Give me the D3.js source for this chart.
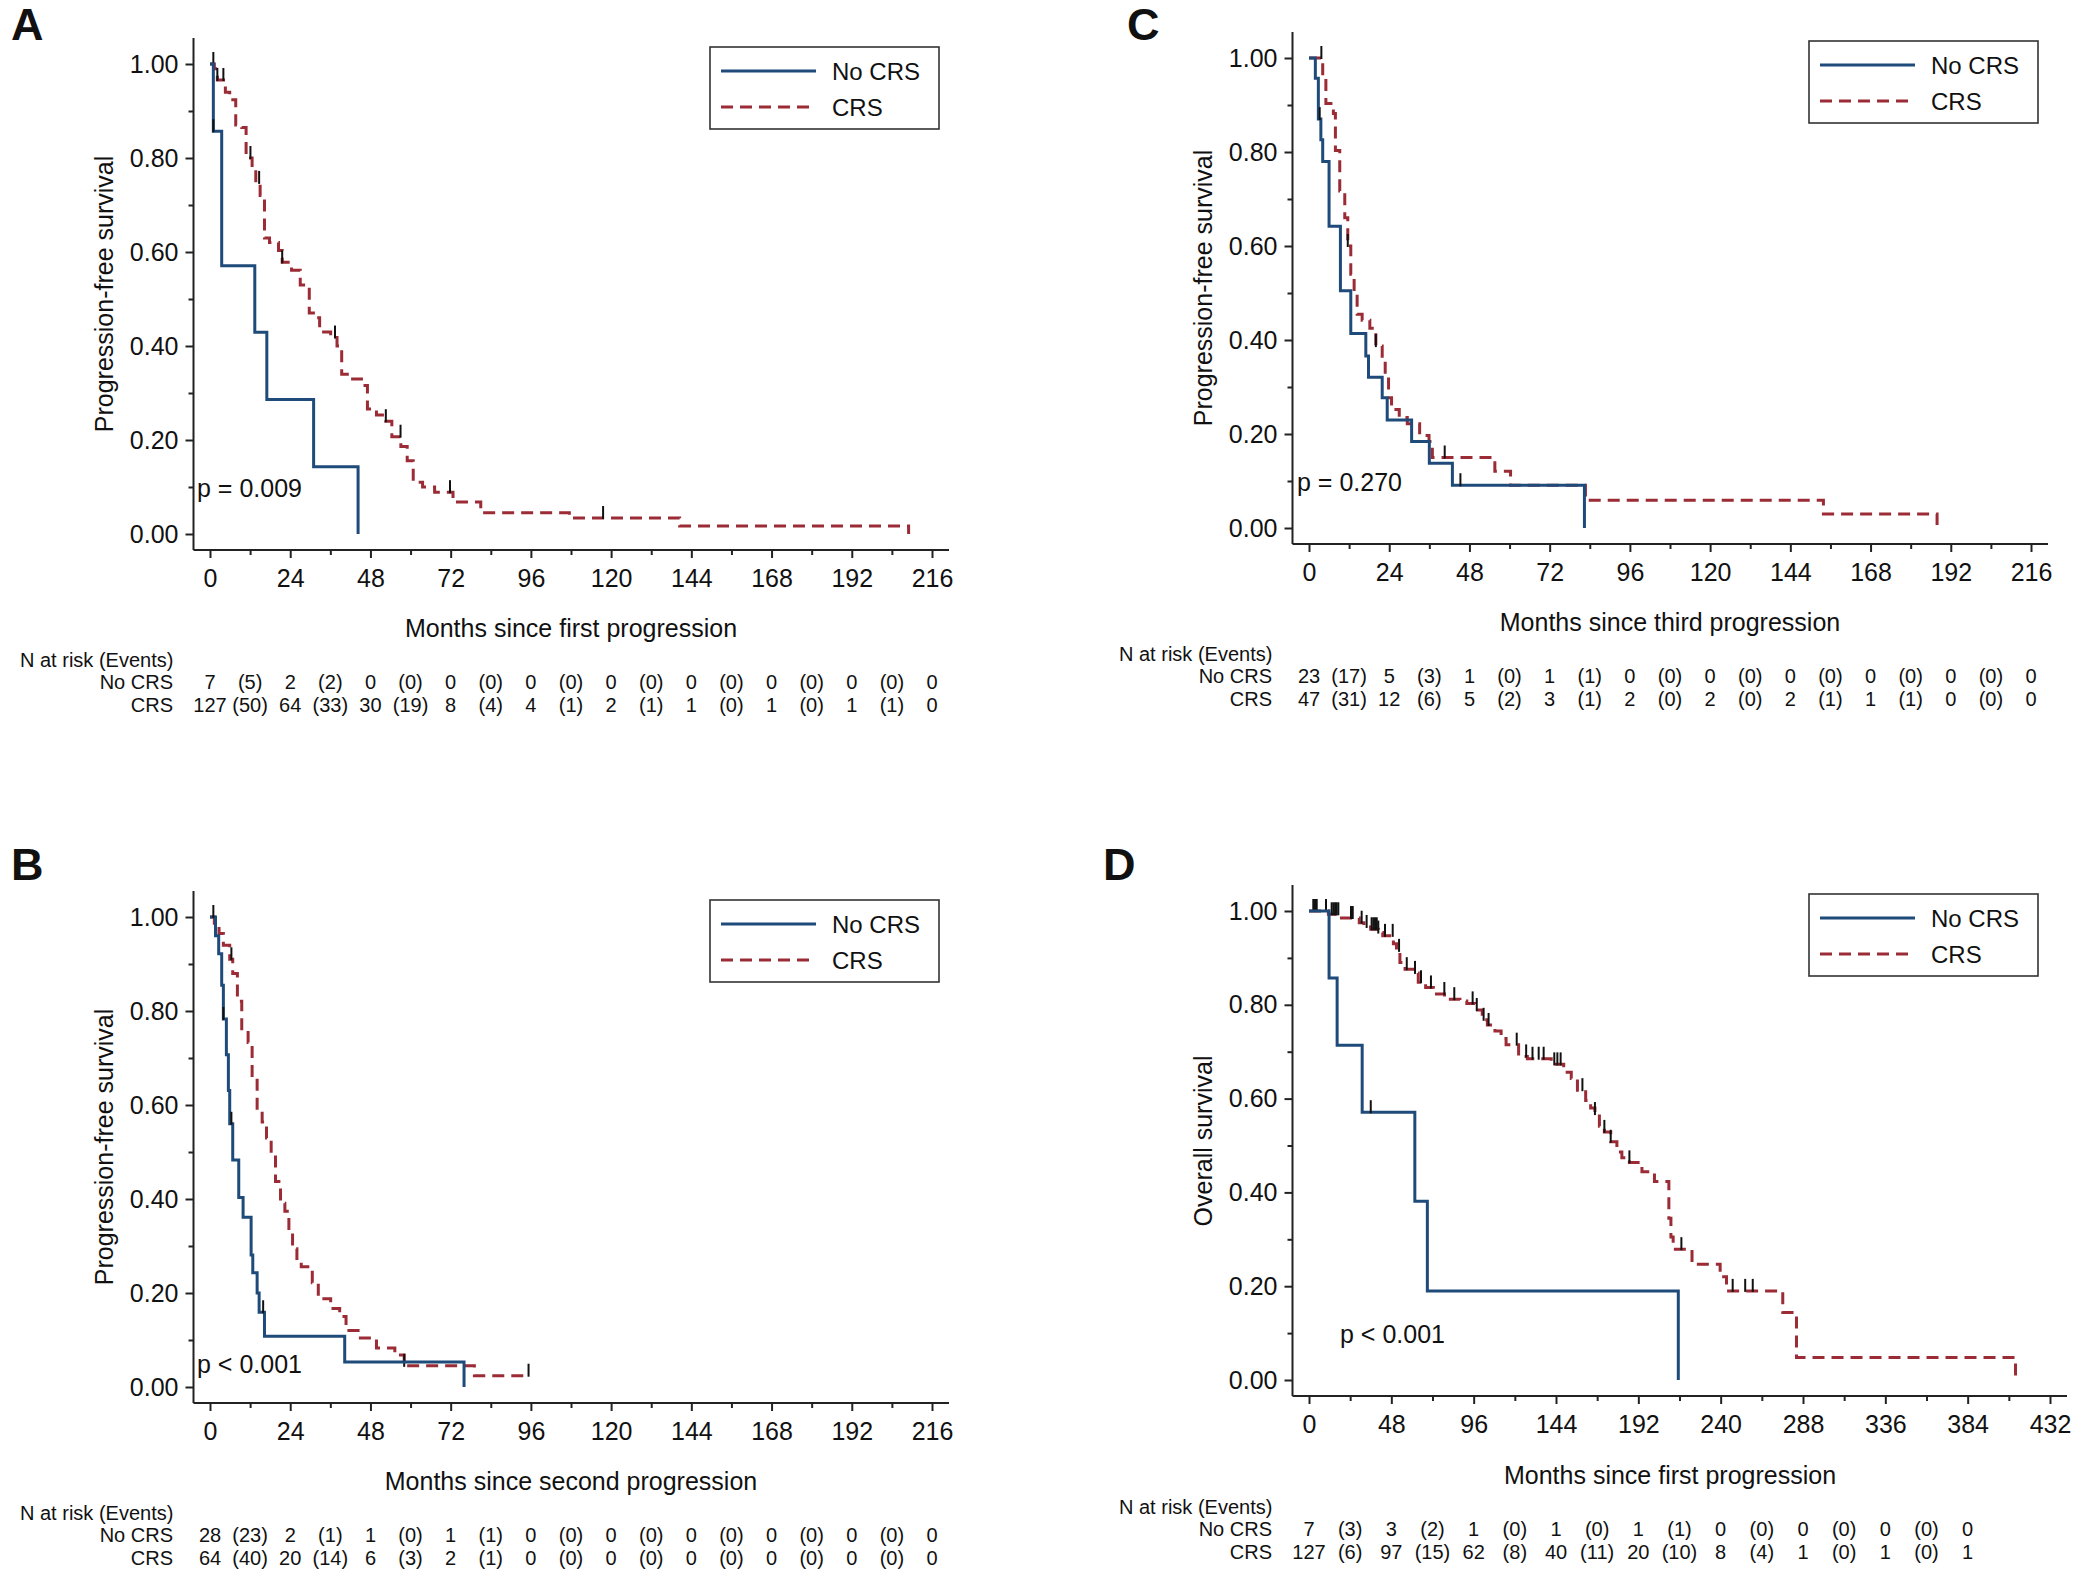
<!DOCTYPE html>
<html><head><meta charset="utf-8">
<script src="https://cdn.jsdelivr.net/npm/d3@7"></script>
<style>
body{margin:0;background:#fff}
svg{display:block}
text{font-family:"Liberation Sans",Arial,sans-serif;fill:#111}
</style>
</head><body>
<svg id="chart" width="2083" height="1579"></svg>
<script>
// ---------------- DATA ----------------
const groups = ["No CRS", "CRS"];
const yTicks = [0, 0.2, 0.4, 0.6, 0.8, 1.0];
const yMinorTicks = [0.1, 0.3, 0.5, 0.7, 0.9];
const pfsTicks = [0, 24, 48, 72, 96, 120, 144, 168, 192, 216];
const pfsMinorTicks = [12, 36, 60, 84, 108, 132, 156, 180, 204];
const osTicks = [0, 48, 96, 144, 192, 240, 288, 336, 384, 432];
const osMinorTicks = [24, 72, 120, 168, 216, 264, 312, 360, 408];
const pfsRiskTimes = [0, 24, 48, 72, 96, 120, 144, 168, 192, 216];
const pfsEventTimes = [12, 36, 60, 84, 108, 132, 156, 180, 204];
const osRiskTimes = [0, 48, 96, 144, 192, 240, 288, 336, 384];
const osEventTimes = [24, 72, 120, 168, 216, 264, 312, 360];

// Panel A: PFS after first progression
const aNoCrsTime = [0, 1, 3.5, 13.4, 17, 31, 44.3];
const aNoCrsSurv = [1, 0.857, 0.571, 0.429, 0.286, 0.143, 0];
const aCrsTime = [0, 1.3, 2.2, 4.6, 5.9, 7.7, 9.5, 10.8, 12.6, 13.7, 15, 16.3, 17.8, 20.5, 21.6, 24.4, 27, 29.7, 31.5, 32.8, 36.1, 38, 39.4, 41.6, 45.3, 47.1, 49.8, 52.6, 54.4, 57.1, 59, 60.8, 63.6, 67.2, 72.7, 81, 107.5, 140.5, 209];
const aCrsSurv = [1, 0.99, 0.966, 0.94, 0.924, 0.87, 0.865, 0.80, 0.78, 0.747, 0.72, 0.63, 0.62, 0.603, 0.578, 0.561, 0.53, 0.47, 0.46, 0.43, 0.418, 0.40, 0.34, 0.33, 0.316, 0.266, 0.253, 0.24, 0.207, 0.186, 0.156, 0.11, 0.10, 0.089, 0.068, 0.045, 0.034, 0.017, 0];
const aNoCrsCens = [1];
const aCrsCens = [1, 2.2, 4, 12.1, 14.7, 21.6, 37.4, 52.6, 57, 71.8, 117.6];
const aRiskNoCrs = [7, 2, 0, 0, 0, 0, 0, 0, 0, 0];
const aEventsNoCrs = [5, 2, 0, 0, 0, 0, 0, 0, 0];
const aRiskCrs = [127, 64, 30, 8, 4, 2, 1, 1, 1, 0];
const aEventsCrs = [50, 33, 19, 4, 1, 1, 0, 0, 1];

// Panel B: PFS after second progression
const bNoCrsTime = [0, 1.65, 2.6, 3.5, 4.0, 4.9, 5.5, 5.9, 6.8, 8.6, 9.9, 12.3, 12.8, 14.1, 14.7, 16.3, 40.3, 76];
const bNoCrsSurv = [1, 0.96, 0.922, 0.855, 0.783, 0.707, 0.631, 0.56, 0.483, 0.403, 0.361, 0.281, 0.243, 0.2, 0.159, 0.108, 0.053, 0];
const bCrsTime = [0, 1.3, 2.7, 4.0, 5.9, 6.8, 8.2, 9.5, 11.4, 12.6, 14.1, 15.6, 16.9, 18.3, 19.6, 21.1, 22.4, 23.6, 24.7, 26, 27.3, 30.6, 32.4, 36.1, 38.8, 40.7, 44.3, 49.8, 55.3, 58.1, 79.1, 95.3];
const bCrsSurv = [1, 0.98, 0.965, 0.94, 0.91, 0.88, 0.821, 0.758, 0.733, 0.657, 0.589, 0.564, 0.53, 0.496, 0.437, 0.391, 0.374, 0.332, 0.294, 0.268, 0.256, 0.222, 0.188, 0.167, 0.15, 0.12, 0.104, 0.083, 0.068, 0.045, 0.024, 0.024];
const bNoCrsCens = [1, 4.0, 6.4, 15.9];
const bCrsCens = [6.4, 58.1, 95.3];
const bRiskNoCrs = [28, 2, 1, 1, 0, 0, 0, 0, 0, 0];
const bEventsNoCrs = [23, 1, 0, 1, 0, 0, 0, 0, 0];
const bRiskCrs = [64, 20, 6, 2, 0, 0, 0, 0, 0, 0];
const bEventsCrs = [40, 14, 3, 1, 0, 0, 0, 0, 0];

// Panel C: PFS after third progression
const cNoCrsTime = [0, 1.9, 2.8, 3.55, 4.1, 6.0, 9.4, 12.5, 17.0, 17.8, 21.9, 23.4, 30.7, 36.0, 42.9, 82.4];
const cNoCrsSurv = [1, 0.957, 0.87, 0.826, 0.78, 0.642, 0.505, 0.414, 0.366, 0.321, 0.277, 0.23, 0.184, 0.138, 0.091, 0];
const cCrsTime = [0, 4.1, 5.05, 7.3, 7.9, 9.2, 10.7, 11.6, 12.5, 13.5, 14.4, 15.9, 18.2, 20, 21.9, 22.8, 23.8, 24.7, 27, 29.4, 33.1, 35.9, 36.9, 55.6, 60.3, 82.7, 153.9, 187.9];
const cCrsSurv = [1, 0.957, 0.903, 0.882, 0.803, 0.717, 0.66, 0.60, 0.54, 0.497, 0.455, 0.442, 0.425, 0.387, 0.362, 0.328, 0.277, 0.252, 0.235, 0.222, 0.197, 0.184, 0.15, 0.121, 0.091, 0.059, 0.030, 0];
const cNoCrsCens = [3.2, 45.3];
const cCrsCens = [3.7, 11.6, 20, 40.6];
const cRiskNoCrs = [23, 5, 1, 1, 0, 0, 0, 0, 0, 0];
const cEventsNoCrs = [17, 3, 0, 1, 0, 0, 0, 0, 0];
const cRiskCrs = [47, 12, 5, 3, 2, 2, 2, 1, 0, 0];
const cEventsCrs = [31, 6, 2, 1, 0, 0, 1, 1, 0];

// Panel D: overall survival
const dNoCrsTime = [0, 11.7, 16.4, 31, 61.7, 69, 215.3];
const dNoCrsSurv = [1, 0.857, 0.714, 0.571, 0.381, 0.19, 0];
const dCrsTime = [0, 11.3, 18, 29.3, 32, 36, 40.4, 43, 49.2, 51, 53, 56, 61.8, 63.7, 68, 72.5, 79, 88, 92, 96.8, 101, 104, 108.4, 112, 114.9, 122.2, 127.3, 141.2, 148.5, 152.9, 156.5, 161.3, 164.2, 166.7, 169.3, 172.2, 175.9, 179.5, 182.4, 186.8, 194.1, 201.4, 209.8, 211, 212.3, 223.3, 239.7, 243.4, 276.2, 284.2, 411.9];
const dCrsSurv = [1, 0.993, 0.985, 0.975, 0.966, 0.961, 0.954, 0.947, 0.93, 0.915, 0.89, 0.876, 0.868, 0.848, 0.837, 0.823, 0.812, 0.808, 0.803, 0.789, 0.768, 0.757, 0.744, 0.728, 0.715, 0.69, 0.685, 0.673, 0.656, 0.643, 0.618, 0.596, 0.58, 0.567, 0.541, 0.529, 0.508, 0.486, 0.474, 0.464, 0.444, 0.423, 0.345, 0.305, 0.279, 0.247, 0.22, 0.19, 0.144, 0.048, 0];
const dNoCrsCens = [36];
const dCrsCens = [2.5, 3.5, 4.5, 9.9, 13.2, 14.2, 15.2, 16.1, 17.1, 24.5, 25.5, 30.7, 33.6, 36.5, 37.5, 38.5, 39.5, 40.4, 44.3, 48.8, 52.5, 57, 61.8, 65.3, 71.1, 78.9, 84.7, 95.4, 97.8, 101.8, 104.7, 121.1, 126.6, 130.3, 133.9, 136.8, 143, 144.8, 146.7, 159.4, 166.7, 172.2, 175.9, 186.8, 217.1, 247, 254.3, 258.7];
const dRiskNoCrs = [7, 3, 1, 1, 1, 0, 0, 0, 0];
const dEventsNoCrs = [3, 2, 0, 0, 1, 0, 0, 0];
const dRiskCrs = [127, 97, 62, 40, 20, 8, 1, 1, 1];
const dEventsCrs = [6, 15, 8, 11, 10, 4, 0, 0];

const yTitles = ["Progression-free survival", "Progression-free survival", "Progression-free survival", "Overall survival"];
const xTitles = ["Months since first progression", "Months since second progression", "Months since third progression", "Months since first progression"];
const pValues = ["p = 0.009", "p < 0.001", "p = 0.270", "p < 0.001"];
const panelLetters = ["A", "B", "C", "D"];

// ---------------- LAYOUT ----------------
const COL_BLUE = "#1f4b7a", COL_RED = "#9b2b35", COL_AX = "#222";
const panels = [
  {letter: panelLetters[0], L: 210, T: 64, W: 722, H: 470, xMax: 216, ticks: pfsTicks, minor: pfsMinorTicks,
   riskT: pfsRiskTimes, evT: pfsEventTimes, yTitle: yTitles[0], xTitle: xTitles[0], p: pValues[0], pdx: -13, pdy: 433, letterX: 11, letterY: 40,
   s: [[aNoCrsTime, aNoCrsSurv, aNoCrsCens, aRiskNoCrs, aEventsNoCrs], [aCrsTime, aCrsSurv, aCrsCens, aRiskCrs, aEventsCrs]]},
  {letter: panelLetters[1], L: 210, T: 917, W: 722, H: 470, xMax: 216, ticks: pfsTicks, minor: pfsMinorTicks,
   riskT: pfsRiskTimes, evT: pfsEventTimes, yTitle: yTitles[1], xTitle: xTitles[1], p: pValues[1], pdx: -13, pdy: 456, letterX: 11, letterY: 880,
   s: [[bNoCrsTime, bNoCrsSurv, bNoCrsCens, bRiskNoCrs, bEventsNoCrs], [bCrsTime, bCrsSurv, bCrsCens, bRiskCrs, bEventsCrs]]},
  {letter: panelLetters[2], L: 1309, T: 58, W: 722, H: 470, xMax: 216, ticks: pfsTicks, minor: pfsMinorTicks,
   riskT: pfsRiskTimes, evT: pfsEventTimes, yTitle: yTitles[2], xTitle: xTitles[2], p: pValues[2], pdx: -12, pdy: 433, letterX: 1127, letterY: 40,
   s: [[cNoCrsTime, cNoCrsSurv, cNoCrsCens, cRiskNoCrs, cEventsNoCrs], [cCrsTime, cCrsSurv, cCrsCens, cRiskCrs, cEventsCrs]]},
  {letter: panelLetters[3], L: 1309, T: 911, W: 741, H: 469, xMax: 432, ticks: osTicks, minor: osMinorTicks,
   riskT: osRiskTimes, evT: osEventTimes, yTitle: yTitles[3], xTitle: xTitles[3], p: pValues[3], pdx: 31, pdy: 432, letterX: 1103, letterY: 880,
   s: [[dNoCrsTime, dNoCrsSurv, dNoCrsCens, dRiskNoCrs, dEventsNoCrs], [dCrsTime, dCrsSurv, dCrsCens, dRiskCrs, dEventsCrs]]}
];

const svg = d3.select("#chart");
svg.append("rect").attr("width", 2083).attr("height", 1579).attr("fill", "#fff");

function stepAt(times, surv, t) {
  let v = surv[0];
  for (let i = 0; i < times.length; i++) { if (times[i] <= t) v = surv[i]; }
  return v;
}

panels.forEach(p => {
  const g = svg.append("g");
  const x = d3.scaleLinear().domain([0, p.xMax]).range([p.L, p.L + p.W]);
  const y = d3.scaleLinear().domain([0, 1]).range([p.T + p.H, p.T]);
  const axX = p.L - 16.5, axY = p.T + p.H + 16;

  g.append("text").attr("x", p.letterX).attr("y", p.letterY).attr("font-size", 45).attr("font-weight", "bold").text(p.letter);

  g.append("line").attr("x1", axX).attr("x2", axX).attr("y1", p.T - 26).attr("y2", axY).attr("stroke", COL_AX).attr("stroke-width", 2);
  g.append("line").attr("x1", axX).attr("x2", p.L + p.W + 17).attr("y1", axY).attr("y2", axY).attr("stroke", COL_AX).attr("stroke-width", 2);

  const yAx = g.append("g").attr("transform", `translate(${axX},0)`)
    .call(d3.axisLeft(y).tickValues(yTicks).tickFormat(d3.format(".2f")).tickSize(8).tickPadding(7));
  const yAxMinor = g.append("g").attr("transform", `translate(${axX},0)`)
    .call(d3.axisLeft(y).tickValues(yMinorTicks).tickFormat("").tickSize(5));
  const xAx = g.append("g").attr("transform", `translate(0,${axY})`)
    .call(d3.axisBottom(x).tickValues(p.ticks).tickFormat(d3.format("d")).tickSize(8).tickPadding(11));
  const xAxMinor = g.append("g").attr("transform", `translate(0,${axY})`)
    .call(d3.axisBottom(x).tickValues(p.minor).tickFormat("").tickSize(5));
  [yAx, yAxMinor, xAx, xAxMinor].forEach(a => {
    a.select(".domain").remove();
    a.selectAll("line").attr("stroke", COL_AX).attr("stroke-width", 2);
    a.selectAll("text").attr("font-size", 25).attr("font-family", '"Liberation Sans",Arial,sans-serif').attr("fill", "#111");
  });

  g.append("text").attr("transform", `translate(${p.L - 106},${p.T + 230}) rotate(-90)`)
    .attr("text-anchor", "middle").attr("dy", "0.35em").attr("font-size", 25).text(p.yTitle);
  g.append("text").attr("x", p.L + 361).attr("y", p.T + 573).attr("text-anchor", "middle").attr("font-size", 25).text(p.xTitle);

  g.append("text").attr("x", p.L + p.pdx).attr("y", p.T + p.pdy).attr("font-size", 25).text(p.p);

  const line = d3.line().x(d => x(d[0])).y(d => y(d[1])).curve(d3.curveStepAfter);
  [1, 0].forEach(k => {
    const [times, surv, cens] = p.s[k];
    const pts = times.map((t, i) => [t, surv[i]]);
    g.append("path").attr("d", line(pts)).attr("fill", "none")
      .attr("stroke", k === 0 ? COL_BLUE : COL_RED).attr("stroke-width", 3)
      .attr("stroke-dasharray", k === 0 ? null : "12,7");
    g.selectAll(null).data(cens).enter().append("line")
      .attr("x1", t => x(t)).attr("x2", t => x(t))
      .attr("y1", t => y(stepAt(times, surv, t)) - 12)
      .attr("y2", t => y(stepAt(times, surv, t)) + 1)
      .attr("stroke", "#111").attr("stroke-width", 2);
  });

  const bx = p.L + 500, by = p.T - 17;
  g.append("rect").attr("x", bx).attr("y", by).attr("width", 229).attr("height", 82)
    .attr("fill", "#fff").attr("stroke", "#333").attr("stroke-width", 1.6);
  groups.forEach((name, k) => {
    const ly = by + 24 + k * 36;
    g.append("line").attr("x1", bx + 11).attr("x2", bx + 106).attr("y1", ly).attr("y2", ly)
      .attr("stroke", k === 0 ? COL_BLUE : COL_RED).attr("stroke-width", 3)
      .attr("stroke-dasharray", k === 0 ? null : "12,7");
    g.append("text").attr("x", bx + 122).attr("y", ly + 9).attr("font-size", 24).text(name);
  });

  g.append("text").attr("x", p.L - 190).attr("y", p.T + 603).attr("font-size", 20).text("N at risk (Events)");
  groups.forEach((name, k) => {
    const ry = p.T + 625 + k * 23;
    g.append("text").attr("x", p.L - 37).attr("y", ry).attr("text-anchor", "end").attr("font-size", 20).text(name);
    const risk = p.s[k][3], ev = p.s[k][4];
    g.selectAll(null).data(risk).enter().append("text")
      .attr("x", (d, i) => x(p.riskT[i])).attr("y", ry).attr("text-anchor", "middle").attr("font-size", 20).text(d => d);
    g.selectAll(null).data(ev).enter().append("text")
      .attr("x", (d, i) => x(p.evT[i])).attr("y", ry).attr("text-anchor", "middle").attr("font-size", 20).text(d => `(${d})`);
  });
});
</script>
</body></html>
